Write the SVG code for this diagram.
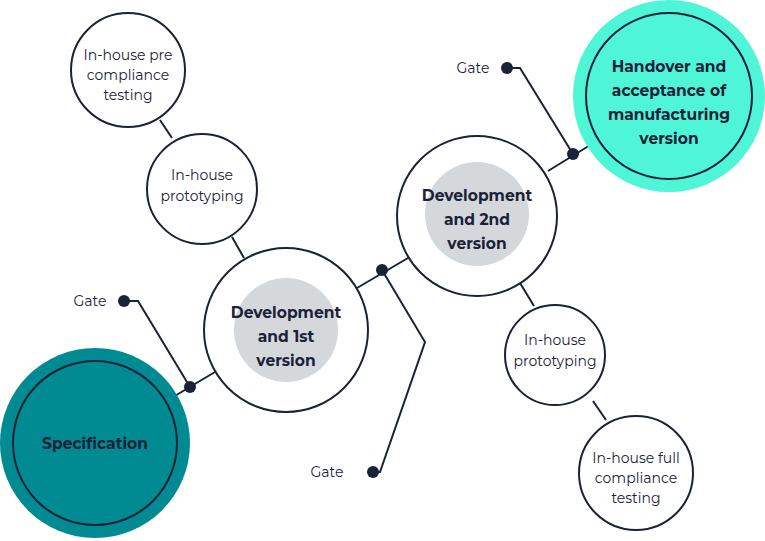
<svg xmlns="http://www.w3.org/2000/svg" width="765" height="541" viewBox="0 0 765 541">
<style>
.n{fill:#fff;stroke:#1a2138;stroke-width:2}
.g{fill:#d4d8db}
.t{font-family:Montserrat,"Liberation Sans",sans-serif;font-size:14px;fill:#1a2138;text-anchor:middle}
.b{font-weight:bold;font-size:15.5px}
.c{fill:none;stroke:#1a2138;stroke-width:2}
.d{fill:#1a2138}
</style>
<g id="connectors">
<path class="c" d="M163 403L215 372M124 301H138L190 387"/>
<path class="c" d="M357 288L408 258M373 472H380L425 342L382 270"/>
<path class="c" d="M548 171L600 139M507 68H520L573 154"/>
<path class="c" d="M160 120L172 138M232 237L244 258M520 283L534 306M593 401L606 420"/>
<circle class="d" cx="190" cy="387" r="6"/><circle class="d" cx="124" cy="301" r="6"/>
<circle class="d" cx="382" cy="270" r="6"/><circle class="d" cx="373" cy="472" r="6"/>
<circle class="d" cx="573" cy="154" r="6"/><circle class="d" cx="507" cy="68" r="6"/>
<text class="t" x="90" y="306">Gate</text>
<text class="t" x="327" y="477">Gate</text>
<text class="t" x="473" y="73">Gate</text>
</g>
<g id="spec"><circle cx="95" cy="443" r="95" fill="#008a91"/><circle cx="95" cy="443" r="82" fill="none" stroke="#1a2138" stroke-width="2"/><text class="t b" x="95" y="449">Specification</text></g>
<g id="handover"><circle cx="669" cy="96" r="96" fill="#4ef5d6"/><circle cx="669" cy="96" r="83" fill="none" stroke="#1a2138" stroke-width="2"/>
<text class="t b" x="669" y="72">Handover and</text><text class="t b" x="669" y="96">acceptance of</text><text class="t b" x="669" y="120">manufacturing</text><text class="t b" x="669" y="144">version</text></g>
<g id="dev1"><circle class="n" cx="286" cy="330" r="82"/><circle class="g" cx="286" cy="330" r="52"/>
<text class="t b" x="286" y="318">Development</text><text class="t b" x="286" y="342">and 1st</text><text class="t b" x="286" y="366">version</text></g>
<g id="dev2"><circle class="n" cx="477" cy="216" r="80"/><circle class="g" cx="477" cy="214" r="52"/>
<text class="t b" x="477" y="201">Development</text><text class="t b" x="477" y="225">and 2nd</text><text class="t b" x="477" y="249">version</text></g>
<g id="pre"><circle class="n" cx="128" cy="70" r="57"/><text class="t" x="128" y="60">In-house pre</text><text class="t" x="128" y="80">compliance</text><text class="t" x="128" y="100">testing</text></g>
<g id="proto1"><circle class="n" cx="202" cy="189" r="55"/><text class="t" x="202" y="180">In-house</text><text class="t" x="202" y="201">prototyping</text></g>
<g id="proto2"><circle class="n" cx="555" cy="355" r="50"/><text class="t" x="555" y="345">In-house</text><text class="t" x="555" y="366">prototyping</text></g>
<g id="full"><circle class="n" cx="636" cy="473" r="57"/><text class="t" x="636" y="463">In-house full</text><text class="t" x="636" y="483">compliance</text><text class="t" x="636" y="503">testing</text></g>
</svg>
